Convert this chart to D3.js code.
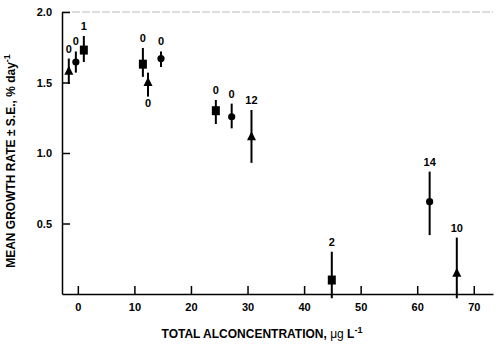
<!DOCTYPE html>
<html>
<head>
<meta charset="utf-8">
<script src="https://cdn.jsdelivr.net/npm/d3@7"></script>
<style>
  body { margin: 0; background: #fff; }
  svg { font-family: "Liberation Sans", Arial, sans-serif; }
  .eixo text { font-size: 11px; font-weight: bold; fill: #000; }
  .eixo path, .eixo line { stroke: #000; stroke-width: 1.5; }
  .rotulo { font-size: 11px; font-weight: bold; text-anchor: middle; }
  .titulo-eixo { font-size: 12px; font-weight: bold; text-anchor: middle; }
</style>
</head>
<body>
<svg id="grafico"></svg>
<script>
// dados (concentração de Al, taxa média e barras de erro)
const triX = [-1.6, 12.4, 30.7, 67.0];
const triY = [1.58, 1.50, 1.115, 0.147];
const triAlto = [1.67, 1.57, 1.305, 0.40];
const triBaixo = [1.49, 1.40, 0.93, -0.03];
const triRotulos = ['0', '0', '12', '10'];
const triLado = ['cima', 'baixo', 'cima', 'cima'];

const circX = [-0.35, 14.7, 27.2, 62.2];
const circY = [1.645, 1.67, 1.257, 0.655];
const circAlto = [1.72, 1.72, 1.35, 0.868];
const circBaixo = [1.57, 1.61, 1.175, 0.418];
const circRotulos = ['0', '0', '0', '14'];
const circLado = ['cima', 'cima', 'cima', 'cima'];

const quadX = [1.06, 11.5, 24.4, 44.9];
const quadY = [1.73, 1.63, 1.30, 0.099];
const quadAlto = [1.83, 1.745, 1.376, 0.30];
const quadBaixo = [1.645, 1.54, 1.206, -0.03];
const quadRotulos = ['1', '0', '0', '2'];
const quadLado = ['cima', 'cima', 'cima', 'cima'];

const ticksX = [0, 10, 20, 30, 40, 50, 60, 70];
const ticksY = [0.5, 1.0, 1.5, 2.0];

const largura = 500, altura = 350;
const svg = d3.select('#grafico').attr('width', largura).attr('height', altura);

// escalas
const x = d3.scaleLinear().domain([-2.8, 73.4]).range([62, 493]);
const y = d3.scaleLinear().domain([0, 2]).range([294, 12]);

// linha superior (tracejada e clara)
svg.append('line')
    .attr('x1', x.range()[0]).attr('x2', x.range()[1])
    .attr('y1', y(2)).attr('y2', y(2))
    .attr('stroke', '#bbb').attr('stroke-width', 1)
    .attr('stroke-dasharray', '8,2');

// eixos
svg.append('g')
    .classed('eixo', true)
    .attr('transform', `translate(0, ${y(0)})`)
    .call(d3.axisBottom(x).tickValues(ticksX).tickSizeInner(-8).tickSizeOuter(0).tickPadding(9));

svg.append('g')
    .classed('eixo', true)
    .attr('transform', `translate(${x.range()[0]}, 0)`)
    .call(d3.axisLeft(y).tickValues(ticksY).tickFormat(d3.format('.1f')).tickSizeInner(-8).tickSizeOuter(0).tickPadding(10));

// monta as séries
function serie(xs, ys, altos, baixos, rotulos, lados, tipo) {
  return xs.map((v, i) => ({ x: v, y: ys[i], alto: altos[i], baixo: baixos[i], rotulo: rotulos[i], lado: lados[i], tipo }));
}
const pontos = [
  ...serie(triX, triY, triAlto, triBaixo, triRotulos, triLado, 'triangulo'),
  ...serie(circX, circY, circAlto, circBaixo, circRotulos, circLado, 'circulo'),
  ...serie(quadX, quadY, quadAlto, quadBaixo, quadRotulos, quadLado, 'quadrado')
];

// barras de erro
svg.selectAll('.erro').data(pontos).enter()
  .append('line')
    .classed('erro', true)
    .attr('x1', d => x(d.x)).attr('x2', d => x(d.x))
    .attr('y1', d => y(d.alto)).attr('y2', d => y(d.baixo))
    .attr('stroke', '#000').attr('stroke-width', 2);

// marcadores
const simbolos = {
  triangulo: 'M0,-5.5L4.5,3.5L-4.5,3.5Z',
  quadrado: 'M-4,-4.5H4V4.5H-4Z',
  circulo: d3.symbol(d3.symbolCircle, Math.PI * 3.6 * 3.6)()
};
svg.selectAll('.marca').data(pontos).enter()
  .append('path')
    .classed('marca', true)
    .attr('transform', d => `translate(${x(d.x)}, ${y(d.y)})`)
    .attr('d', d => simbolos[d.tipo])
    .attr('fill', '#000');

// rótulos (número de observações)
svg.selectAll('.rotulo').data(pontos).enter()
  .append('text')
    .classed('rotulo', true)
    .attr('x', d => x(d.x))
    .attr('y', d => d.lado === 'cima' ? y(d.alto) - 6 : y(d.baixo) + 10)
    .text(d => d.rotulo);

// títulos dos eixos
const tituloY = svg.append('text')
    .classed('titulo-eixo', true)
    .attr('transform', 'translate(15, 161) rotate(-90)');
tituloY.append('tspan').text('MEAN GROWTH RATE ± S.E., % day');
tituloY.append('tspan').attr('dy', -5).attr('font-size', 9).text('-1');

const tituloX = svg.append('text')
    .classed('titulo-eixo', true)
    .attr('x', 262).attr('y', 338);
tituloX.append('tspan').text('TOTAL ALCONCENTRATION, ');
tituloX.append('tspan').attr('font-weight', 'normal').text('μg');
tituloX.append('tspan').text(' L');
tituloX.append('tspan').attr('dy', -5).attr('font-size', 9).text('-1');
</script>
</body>
</html>
